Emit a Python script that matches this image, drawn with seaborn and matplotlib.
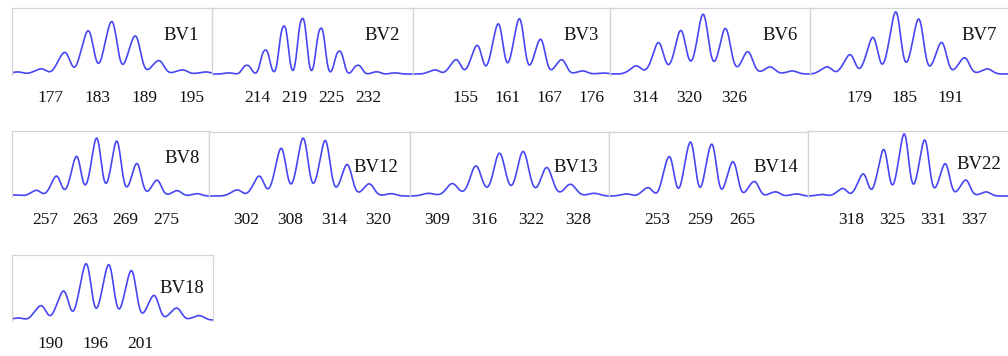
import numpy as np
import pandas as pd
import matplotlib
matplotlib.use("Agg")
import matplotlib.pyplot as plt
import seaborn as sns

# Relative peak heights of each TCR BV spectratype, one value per 3-nt step
bv1 = [2, 5, 21, 42, 51, 37, 13, 4, 2]
bv2 = [1, 8, 22, 44, 51, 42, 21, 8, 2, 1]
bv3 = [4, 14, 28, 49, 54, 34, 14, 3, 1]
bv6 = [8, 31, 43, 59, 45, 22, 7, 3]
bv7 = [7, 19, 36, 61, 54, 31, 16, 5]
bv8 = [1, 5.6, 19.6, 39, 57, 54, 32, 15.6, 5.3, 2.3]
bv12 = [6, 19.6, 47, 57, 54.6, 31, 12, 2.3]
bv13 = [2.7, 12.4, 30, 42.7, 44.4, 28.4, 11.7, 2.7]
bv14 = [2, 8, 38, 52, 50, 33, 14, 4, 2]
bv22 = [1.5, 7.4, 21.7, 45.7, 61, 55, 31.7, 15.7, 4]
bv18 = [2, 14, 28.3, 55, 54, 48.3, 24, 11.7, 4.3]

# CDR3 length labels (nt) and the peak each label sits under
bv1_labels, bv1_at = ["177", "183", "189", "195"], [1, 3, 5, 7]
bv2_labels, bv2_at = ["214", "219", "225", "232"], [1, 3, 5, 7]
bv3_labels, bv3_at = ["155", "161", "167", "176"], [1, 3, 5, 7]
bv6_labels, bv6_at = ["314", "320", "326"], [0, 2, 4]
bv7_labels, bv7_at = ["179", "185", "191"], [1, 3, 5]
bv8_labels, bv8_at = ["257", "263", "269", "275"], [1, 3, 5, 7]
bv12_labels, bv12_at = ["302", "308", "314", "320"], [0, 2, 4, 6]
bv13_labels, bv13_at = ["309", "316", "322", "328"], [0, 2, 4, 6]
bv14_labels, bv14_at = ["253", "259", "265"], [1, 3, 5]
bv22_labels, bv22_at = ["318", "325", "331", "337"], [1, 3, 5, 7]
bv18_labels, bv18_at = ["190", "196", "201"], [1, 3, 5]

W, H = 1008, 356
LINE = "#4646f2"
FRAME = "#d4d4d4"
SERIF = "Liberation Serif"

sns.set_style("white")
plt.rcParams["font.family"] = [SERIF, "DejaVu Serif"]

fig = plt.figure(figsize=(W / 100, H / 100), dpi=100)

# name, heights, labels, label peaks,
# box (left, top, right, bottom px), first peak px, peak step px,
# stutter shoulder (fraction, offset), peak width, title (dx, dy), last column
panels = [
    ("BV1", bv1, bv1_labels, bv1_at, (12, 8, 212, 75), 19, 23.5, (0.5, 0.3), 0.19, (13, 32), False),
    ("BV2", bv2, bv2_labels, bv2_at, (212, 8, 413, 75), 230.5, 18.5, (0.9, 0.26), 0.15, (13, 32), False),
    ("BV3", bv3, bv3_labels, bv3_at, (413, 8, 610, 75), 436, 21.1, (0.45, 0.3), 0.19, (11, 32), False),
    ("BV6", bv6, bv6_labels, bv6_at, (610, 8, 810, 75), 637, 22.3, (0.3, 0.3), 0.21, (12, 32), False),
    ("BV7", bv7, bv7_labels, bv7_at, (810, 8, 1008, 75), 828, 22.9, (0.4, 0.3), 0.19, (11, 32), True),
    ("BV8", bv8, bv8_labels, bv8_at, (12, 131, 209, 197), 17, 20.1, (0.35, 0.3), 0.2, (9, 32), False),
    ("BV12", bv12, bv12_labels, bv12_at, (209, 132, 410, 197), 238, 22.0, (0.35, 0.3), 0.2, (12, 40), False),
    ("BV13", bv13, bv13_labels, bv13_at, (410, 132, 609, 197), 429, 23.6, (0.1, 0.3), 0.23, (11, 40), False),
    ("BV14", bv14, bv14_labels, bv14_at, (609, 132, 808, 197), 628, 21.25, (0.55, 0.28), 0.18, (10, 40), False),
    ("BV22", bv22, bv22_labels, bv22_at, (808, 131, 1008, 197), 823, 20.5, (0.4, 0.3), 0.19, (7, 38), True),
    ("BV18", bv18, bv18_labels, bv18_at, (12, 255, 213, 321), 19.4, 22.6, (0.45, 0.3), 0.19, (9, 38), False),
]


def profile(x, heights, shoulder, sigma):
    frac, off = shoulder
    norm = 1 + frac * np.exp(-off ** 2 / (2 * sigma ** 2))
    y = np.zeros_like(x)
    for i, h in enumerate(heights):
        main = np.exp(-(x - i) ** 2 / (2 * sigma ** 2))
        stutter = frac * np.exp(-(x - i + off) ** 2 / (2 * sigma ** 2))
        y += h * (main + stutter) / norm
    return y


for (name, heights, labels, label_at, box, first_px, step_px,
     shoulder, sigma, (tdx, tdy), last_col) in panels:
    left, top, right, bottom = box
    ax = fig.add_axes([left / W, 1 - bottom / H, (right - left) / W, (bottom - top) / H])
    x0 = (left - first_px) / step_px
    x1 = (right - first_px) / step_px
    x = np.linspace(x0, x1, 1200)
    df = pd.DataFrame({"peak": x, "intensity": profile(x, heights, shoulder, sigma)})
    sns.lineplot(data=df, x="peak", y="intensity", ax=ax, color=LINE, lw=1.2)
    ax.set_xlim(x0, x1)
    ax.set_ylim(-1, (bottom - top) - 1)
    ax.set_xlabel("")
    ax.set_ylabel("")
    ax.set_yticks([])
    ax.set_xticks(range(len(heights)))
    ax.tick_params(axis="x", length=2, width=0.8, color="#b0b0b0",
                   direction="out", labelbottom=False)
    for side in ("left", "top", "right"):
        ax.spines[side].set_color(FRAME)
        ax.spines[side].set_linewidth(0.9)
    ax.spines["bottom"].set_visible(False)
    if last_col:
        ax.spines["right"].set_visible(False)

    for lab, i in zip(labels, label_at):
        ax.annotate(lab, xy=(i, 0), xycoords=("data", "axes fraction"),
                    xytext=(5.8, -16.6), textcoords="offset points",
                    ha="center", va="center", fontsize=12.5, color="#111111")

    fig.text((right - tdx) / W, 1 - (top + tdy) / H, name, ha="right",
             va="baseline", fontsize=13.5, color="#111111")

fig.savefig("out.png", dpi=100)
